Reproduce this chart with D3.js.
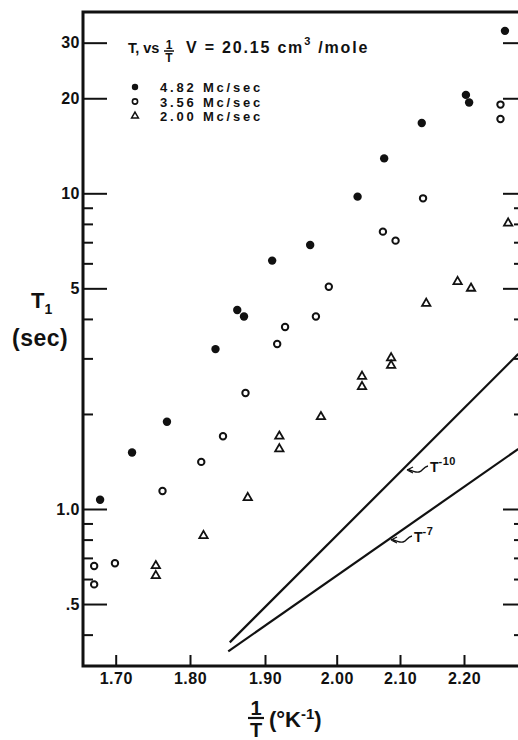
<!DOCTYPE html>
<html>
<head>
<meta charset="utf-8">
<script src="https://cdn.jsdelivr.net/npm/d3@7"></script>
<style>
  body { margin: 0; background: #fff; }
  svg { display: block; }
  text { font-family: "Liberation Sans", Arial, sans-serif; font-weight: bold; fill: #111; }
  .axis text { font-size: 16px; letter-spacing: 0.5px; }
  .axis line { stroke: #111; stroke-width: 2; }
  .axis .domain { display: none; }
</style>
</head>
<body>
<svg></svg>
<script>
// tick values and labels
const xTicks = [1.70, 1.80, 1.90, 2.00, 2.10, 2.20];
const xTickLabels = ['1.70', '1.80', '1.90', '2.00', '2.10', '2.20'];
const yMajor = [0.5, 1, 5, 10, 20, 30];
const yMajorLabels = ['.5', '1.0', '5', '10', '20', '30'];
const yMinor = [0.4, 0.6, 0.7, 0.8, 0.9, 2, 3, 4, 6, 7, 8, 9];

// legend
const freqLabels = ['4.82 Mc/sec', '3.56 Mc/sec', '2.00 Mc/sec'];

// 4.82 Mc/sec (filled circles)
const invT482 = [1.679, 1.722, 1.769, 1.834, 1.863, 1.872, 1.910, 1.963, 2.033, 2.075, 2.134, 2.203, 2.208, 2.264];
const t1482 = [1.07, 1.51, 1.89, 3.21, 4.27, 4.07, 6.12, 6.86, 9.76, 12.9, 16.7, 20.5, 19.4, 32.7];

// 3.56 Mc/sec (open circles)
const invT356 = [1.671, 1.671, 1.699, 1.763, 1.815, 1.844, 1.874, 1.917, 1.928, 1.971, 1.989, 2.073, 2.093, 2.136, 2.257, 2.257];
const t1356 = [0.577, 0.660, 0.673, 1.14, 1.41, 1.70, 2.33, 3.33, 3.77, 4.07, 5.06, 7.56, 7.08, 9.64, 19.1, 17.2];

// 2.00 Mc/sec (triangles)
const invT200 = [1.754, 1.754, 1.818, 1.877, 1.920, 1.920, 1.978, 2.040, 2.040, 2.086, 2.086, 2.141, 2.190, 2.211, 2.269];
const t1200 = [0.661, 0.615, 0.823, 1.086, 1.70, 1.55, 1.96, 2.63, 2.44, 3.01, 2.85, 4.48, 5.25, 5.00, 8.04];

// reference slopes
const lineT10x = [1.853, 2.285];
const lineT10y = [0.378, 3.10];
const lineT7x = [1.851, 2.285];
const lineT7y = [0.354, 1.55];

const margin = { top: 12, right: 0, bottom: 74, left: 83 };
const width = 441;
const height = 654;

const svg = d3.select('svg')
  .attr('width', 518)
  .attr('height', 740);

const g = svg.append('g')
  .attr('transform', `translate(${margin.left}, ${margin.top})`);

// the paper's x axis is not evenly spaced, so follow its tick marks
const x = d3.scaleLinear().domain(xTicks).range([32.7, 107, 182, 253.7, 317, 381]);
const y = d3.scaleLog().domain([1, 10]).range([497, 181.3]);

g.append('clipPath').attr('id', 'clip')
  .append('rect').attr('width', width).attr('height', height);

// axes
g.append('g')
  .attr('class', 'axis')
  .attr('transform', `translate(0, ${height})`)
  .call(d3.axisBottom(x).tickValues(xTicks).tickFormat((d, i) => xTickLabels[i])
    .tickSize(-11).tickSizeOuter(0).tickPadding(7));

g.append('g')
  .attr('class', 'axis')
  .call(d3.axisLeft(y).tickValues(yMajor).tickFormat((d, i) => yMajorLabels[i])
    .tickSize(-24).tickSizeOuter(0).tickPadding(3));

g.append('g')
  .attr('class', 'axis')
  .call(d3.axisLeft(y).tickValues(yMinor).tickFormat('').tickSize(-10).tickSizeOuter(0));

g.append('g')
  .attr('class', 'axis')
  .attr('transform', `translate(${width}, 0)`)
  .call(d3.axisRight(y).tickValues(yMajor).tickFormat('').tickSize(-21).tickSizeOuter(0));

g.append('g')
  .attr('class', 'axis')
  .attr('transform', `translate(${width}, 0)`)
  .call(d3.axisRight(y).tickValues(yMinor).tickFormat('').tickSize(-10).tickSizeOuter(0));

// frame
g.append('path')
  .attr('d', `M${width},0 H0 V${height} H${width}`)
  .attr('fill', 'none')
  .attr('stroke', '#111')
  .attr('stroke-width', 3);

// slope lines
const plot = g.append('g').attr('clip-path', 'url(#clip)');
const line = d3.line().x(d => x(d[0])).y(d => y(d[1]));

[[lineT10x, lineT10y], [lineT7x, lineT7y]].forEach(([xs, ys]) => {
  plot.append('path')
    .attr('d', line(d3.zip(xs, ys)))
    .attr('fill', 'none')
    .attr('stroke', '#111')
    .attr('stroke-width', 2.2);
});

// data points
plot.selectAll('.p482')
  .data(d3.zip(invT482, t1482))
  .enter()
  .append('circle')
  .attr('cx', d => x(d[0]))
  .attr('cy', d => y(d[1]))
  .attr('r', 4.2)
  .attr('fill', '#111');

plot.selectAll('.p356')
  .data(d3.zip(invT356, t1356))
  .enter()
  .append('circle')
  .attr('cx', d => x(d[0]))
  .attr('cy', d => y(d[1]))
  .attr('r', 3.2)
  .attr('fill', 'none')
  .attr('stroke', '#111')
  .attr('stroke-width', 2);

const tri = d3.symbol().type(d3.symbolTriangle).size(30);
plot.selectAll('.p200')
  .data(d3.zip(invT200, t1200))
  .enter()
  .append('path')
  .attr('d', tri)
  .attr('transform', d => `translate(${x(d[0])}, ${y(d[1])})`)
  .attr('fill', 'none')
  .attr('stroke', '#111')
  .attr('stroke-width', 1.8);

// line annotations
const note = (tipX, tipY, label, sup) => {
  const a = g.append('g').attr('transform', `translate(${tipX - margin.left}, ${tipY - margin.top})`);
  a.append('path')
    .attr('d', 'M0,0 L6,-3 M0,0 L6,3 M0,0 C6,0 8,3 12,2 S16,-3 21,-4')
    .attr('fill', 'none')
    .attr('stroke', '#111')
    .attr('stroke-width', 1.3);
  const t = a.append('text').attr('x', 23).attr('y', 2).style('font-size', '14px').text(label);
  t.append('tspan').attr('dy', -7).style('font-size', '11px').style('letter-spacing', '0.5px').text(sup);
};
note(407, 470, 'T', '-10');
note(391, 540, 'T', '-7');

// title and legend
g.append('text')
  .attr('x', 128 - margin.left)
  .attr('y', 53 - margin.top)
  .style('font-size', '14.5px')
  .text('T, vs');

g.append('text').attr('x', 169 - margin.left).attr('y', 49 - margin.top)
  .attr('text-anchor', 'middle').style('font-size', '12px').text('1');
g.append('line')
  .attr('x1', 164 - margin.left).attr('x2', 174 - margin.left)
  .attr('y1', 51 - margin.top).attr('y2', 51 - margin.top)
  .attr('stroke', '#111').attr('stroke-width', 1.5);
g.append('text').attr('x', 169 - margin.left).attr('y', 62 - margin.top)
  .attr('text-anchor', 'middle').style('font-size', '12px').text('T');

const vol = g.append('text')
  .attr('x', 186 - margin.left)
  .attr('y', 53 - margin.top)
  .style('font-size', '16px')
  .style('letter-spacing', '1.8px')
  .text('V = 20.15 cm');
vol.append('tspan').attr('dy', -8).style('font-size', '11px').text('3');
vol.append('tspan').attr('dy', 8).text(' /mole');

const legend = g.selectAll('.legend')
  .data(freqLabels)
  .enter()
  .append('g')
  .attr('transform', (d, i) => `translate(${135 - margin.left}, ${87 + i * 14.5 - margin.top})`);

legend.append('text')
  .attr('x', 25)
  .attr('y', 5)
  .style('font-size', '13px')
  .style('letter-spacing', '2.8px')
  .text(d => d);

legend.filter((d, i) => i === 0).append('circle').attr('r', 3.2).attr('fill', '#111');
legend.filter((d, i) => i === 1).append('circle').attr('r', 2.6)
  .attr('fill', 'none').attr('stroke', '#111').attr('stroke-width', 1.6);
legend.filter((d, i) => i === 2).append('path').attr('d', d3.symbol().type(d3.symbolTriangle).size(20))
  .attr('fill', 'none').attr('stroke', '#111').attr('stroke-width', 1.5);

// y axis label
const yl = svg.append('text').attr('x', 31).attr('y', 308).style('font-size', '22px').text('T');
yl.append('tspan').attr('dy', 6).style('font-size', '14px').text('1');
svg.append('text').attr('x', 12).attr('y', 346).style('font-size', '23px').style('letter-spacing', '0.5px').text('(sec)');

// x axis label
svg.append('text').attr('x', 256).attr('y', 715).attr('text-anchor', 'middle').style('font-size', '20px').text('1');
svg.append('line').attr('x1', 248).attr('x2', 264).attr('y1', 718).attr('y2', 718)
  .attr('stroke', '#111').attr('stroke-width', 2.2);
svg.append('text').attr('x', 256).attr('y', 737).attr('text-anchor', 'middle').style('font-size', '20px').text('T');
const xl = svg.append('text').attr('x', 269).attr('y', 727).style('font-size', '22px').text('(°K');
xl.append('tspan').attr('dy', -8).style('font-size', '15px').text('-1');
xl.append('tspan').attr('dy', 8).text(')');
</script>
</body>
</html>
